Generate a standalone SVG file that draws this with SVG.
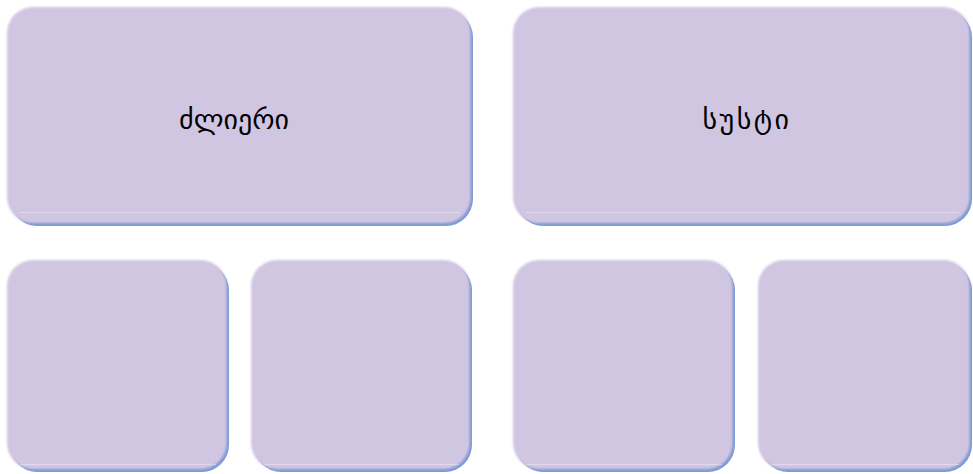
<svg xmlns="http://www.w3.org/2000/svg" width="973" height="474" viewBox="0 0 973 474">
  <style>
    .edge { fill: #7F9AD5; }
    .face { fill: #D1C6E2; filter: url(#soft); }
    .shine { stroke: #FFFFFF; stroke-opacity: 0.35; stroke-width: 1; }
    .label { font-family: "DejaVu Sans", "Noto Sans", sans-serif; font-size: 28px; fill: #000000; text-anchor: middle; }
  </style>
  <defs>
    <filter id="soft" x="-5%" y="-5%" width="110%" height="110%">
      <feGaussianBlur stdDeviation="0.9"/>
    </filter>
  </defs>
  <g id="node-strong">
    <rect class="edge" x="10" y="10" width="463" height="216" rx="27"/>
    <rect class="face" x="7" y="7" width="463.5" height="216" rx="26"/>
    <line class="shine" x1="20" y1="212.5" x2="460" y2="212.5"/>
    <text class="label" x="234" y="129">ძლიერი</text>
  </g>
  <g id="node-weak">
    <rect class="edge" x="516" y="10" width="456" height="216" rx="27"/>
    <rect class="face" x="513" y="7" width="456.5" height="216" rx="26"/>
    <line class="shine" x1="526" y1="212.5" x2="959" y2="212.5"/>
    <text class="label" x="747" y="129" letter-spacing="2.5">სუსტი</text>
  </g>
  <g id="node-b1">
    <rect class="edge" x="10" y="263" width="219" height="209" rx="27"/>
    <rect class="face" x="7" y="260" width="219.5" height="209" rx="26"/>
    <line class="shine" x1="20" y1="464.5" x2="216" y2="464.5"/>
  </g>
  <g id="node-b2">
    <rect class="edge" x="254" y="263" width="218" height="209" rx="27"/>
    <rect class="face" x="251" y="260" width="218.5" height="209" rx="26"/>
    <line class="shine" x1="264" y1="464.5" x2="459" y2="464.5"/>
  </g>
  <g id="node-b3">
    <rect class="edge" x="516" y="263" width="219" height="209" rx="27"/>
    <rect class="face" x="513" y="260" width="219.5" height="209" rx="26"/>
    <line class="shine" x1="526" y1="464.5" x2="722" y2="464.5"/>
  </g>
  <g id="node-b4">
    <rect class="edge" x="761" y="263" width="211" height="209" rx="27"/>
    <rect class="face" x="758" y="260" width="211.5" height="209" rx="26"/>
    <line class="shine" x1="771" y1="464.5" x2="959" y2="464.5"/>
  </g>
  <g id="connectors"></g>
</svg>
